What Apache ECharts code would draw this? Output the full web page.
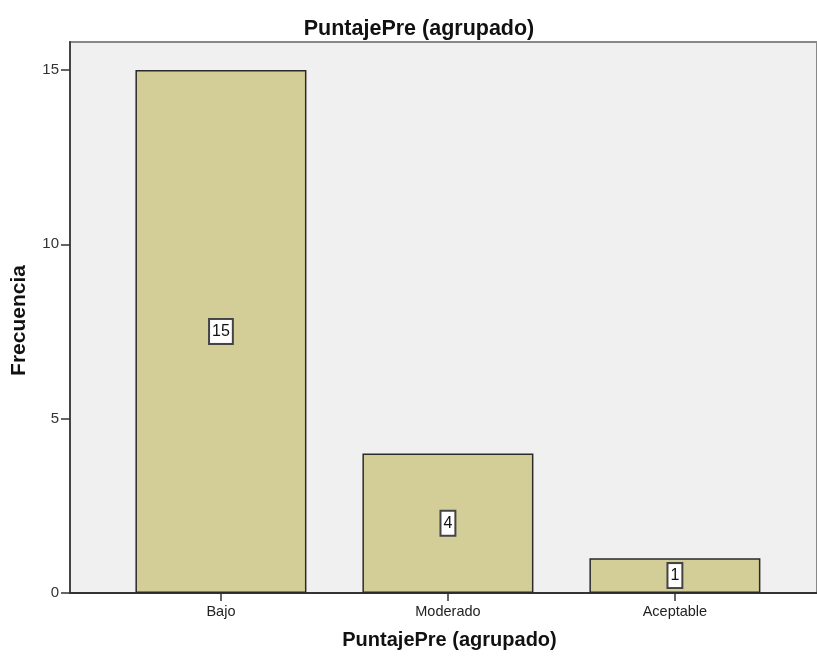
<!DOCTYPE html>
<html>
<head>
<meta charset="utf-8">
<script src="https://cdn.jsdelivr.net/npm/echarts@6/dist/echarts.min.js"></script>
<style>
  html, body { margin: 0; padding: 0; background: #ffffff; }
  #chart { width: 817px; height: 657px; }
</style>
</head>
<body>
<div id="chart"></div>
<script>
// Frequency of grouped PuntajePre scores
const categories = ['Bajo', 'Moderado', 'Aceptable'];
const frecuencias = [15, 4, 1];
const yTicks = [0, 5, 10, 15];

const catPositions = categories.map((c, i) => i);
const barData = frecuencias.map((v, i) => [i, v]);

const chart = echarts.init(document.getElementById('chart'), null, { renderer: 'canvas' });

const labelFont = '"Liberation Sans", Arial, sans-serif';
const boldFont = '"Liberation Sans", Arial, sans-serif';

chart.setOption({
  animation: false,
  backgroundColor: '#ffffff',
  title: {
    text: 'PuntajePre (agrupado)',
    left: 414,
    top: 13,
    textAlign: 'center',
    textStyle: { fontFamily: boldFont, fontWeight: 'bold', fontSize: 21.5, color: '#111' }
  },
  grid: {
    left: 70, right: -4, top: 42, bottom: 64,
    show: true,
    backgroundColor: '#f0f0f0',
    borderColor: '#888888',
    borderWidth: 2
  },
  xAxis: {
    type: 'value',
    min: -0.665,
    max: 2.626,
    splitLine: { show: false },
    axisLine: { show: true, onZero: false, lineStyle: { color: '#333', width: 2 } },
    axisTick: { show: true, customValues: catPositions, length: 8, lineStyle: { color: '#333', width: 1.5 } },
    axisLabel: {
      customValues: catPositions,
      formatter: v => categories[Math.round(v)],
      fontFamily: labelFont, fontSize: 14.5, color: '#222', margin: 11
    },
    name: 'PuntajePre (agrupado)',
    nameLocation: 'middle',
    nameGap: 37,
    nameTextStyle: { fontFamily: boldFont, fontWeight: 'bold', fontSize: 20, color: '#111', padding: [0, 0, 0, 12] }
  },
  yAxis: {
    type: 'value',
    min: 0,
    max: 15.8,
    splitLine: { show: false },
    axisLine: { show: true, onZero: false, lineStyle: { color: '#444', width: 2 } },
    axisTick: { show: true, customValues: yTicks, length: 9, lineStyle: { color: '#333', width: 1.5 } },
    axisLabel: {
      customValues: yTicks,
      fontFamily: labelFont, fontSize: 15, color: '#333', margin: 11
    },
    name: 'Frecuencia',
    nameLocation: 'middle',
    nameGap: 40,
    nameTextStyle: { fontFamily: boldFont, fontWeight: 'bold', fontSize: 21, color: '#111', padding: [0, 6, 0, 0] }
  },
  series: [{
    type: 'bar',
    data: barData,
    barWidth: 171,
    itemStyle: { color: '#d3ce97', borderColor: '#2a2a2a', borderWidth: 1.5 },
    label: {
      show: true,
      position: 'inside',
      formatter: p => p.value[1],
      fontFamily: labelFont,
      fontSize: 16,
      color: '#111',
      backgroundColor: '#ffffff',
      borderColor: '#444',
      borderWidth: 2,
      padding: [4, 2, 3, 2]
    }
  }]
});
</script>
</body>
</html>
